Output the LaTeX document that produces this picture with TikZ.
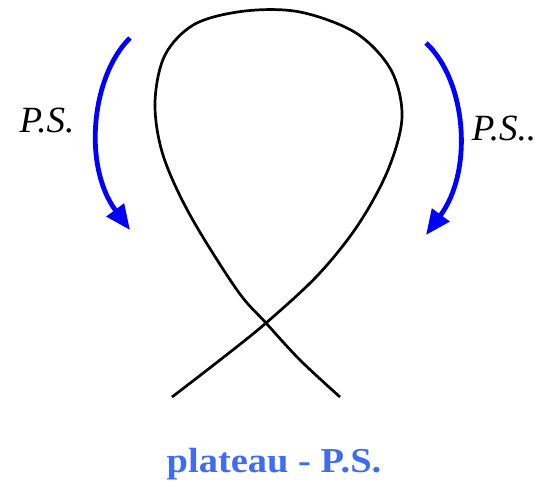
\documentclass[tikz,border=0pt]{standalone}
\usepackage{fontspec}
\setmainfont{Liberation Serif}
\usepackage{tikz}
\usetikzlibrary{arrows.meta}
\definecolor{plateaublue}{RGB}{64,108,242}

\begin{document}
\begin{tikzpicture}[x=1pt, y=-1pt,%
  loopline/.style={line width=2.7pt, black, line join=round},%
  flow/.style={line width=4.8pt, blue, -{Triangle[length=25pt, width=21pt]}},%
  pslabel/.style={font=\itshape\fontsize{37}{40}\selectfont},%
  caption/.style={font=\bfseries\fontsize{35}{38}\selectfont, text=plateaublue}%
]
  \useasboundingbox (0,0) rectangle (541,485);
  % the loop
  \draw[loopline] plot[smooth, tension=0.55] coordinates {(172,397) (220,360) (266,323) (318,275) (358,225) (388,170) (402,117) (391,70) (356,33) (300,12) (245,11) (195,24) (165,55) (155,103) (163,155) (190,215) (237,290) (266,323) (300,360) (340,397)};
  % the two arrows
  \draw[flow] (130,38) .. controls (92,75) and (82,165) .. (130,230);
  \draw[flow] (426,43) .. controls (466,80) and (474,170) .. (426,235);
  % labels
  \node[pslabel] (left) at (47,121) {P.S.};
  \node[pslabel] (right) at (504,129) {P.S..};
  \node[caption, xscale=1.1] (plateau) at (274,464) {plateau - P.S.};
\end{tikzpicture}
\end{document}
